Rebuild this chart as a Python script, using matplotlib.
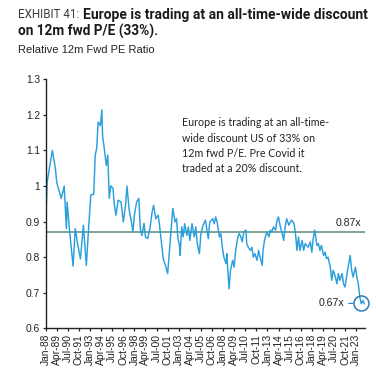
import matplotlib
matplotlib.use("Agg")
import matplotlib.pyplot as plt
import pandas as pd

# ---------------- data ----------------
dates = [
    "1988-01", "1988-03", "1988-06", "1988-10", "1989-02", "1989-04", "1989-08", "1989-10",
    "1990-02", "1990-05", "1990-06", "1990-09", "1991-02", "1991-05", "1991-08", "1991-12",
    "1992-04", "1992-08", "1992-11", "1993-02", "1993-06", "1993-08", "1993-10", "1993-12",
    "1994-03", "1994-05", "1994-06", "1994-08", "1994-11", "1995-01", "1995-03", "1995-05",
    "1995-08", "1995-10", "1995-12", "1996-03", "1996-07", "1996-10", "1997-01", "1997-03",
    "1997-06", "1997-09", "1997-11", "1998-01", "1998-04", "1998-07", "1998-09", "1998-11",
    "1999-02", "1999-04", "1999-07", "1999-10", "2000-01", "2000-03", "2000-06", "2000-09",
    "2000-11", "2001-01", "2001-04", "2001-07", "2001-10", "2002-01", "2002-03", "2002-05",
    "2002-08", "2002-10", "2002-12", "2003-02", "2003-03", "2003-05", "2003-07", "2003-09",
    "2003-12", "2004-02", "2004-04", "2004-07", "2004-10", "2004-12", "2005-02", "2005-05",
    "2005-07", "2005-10", "2006-01", "2006-03", "2006-05", "2006-07", "2006-11", "2007-01",
    "2007-03", "2007-05", "2007-08", "2007-10", "2007-12", "2008-02", "2008-05", "2008-06",
    "2008-08", "2008-09", "2008-11", "2009-02", "2009-04", "2009-06", "2009-09", "2009-11",
    "2010-01", "2010-03", "2010-05", "2010-08", "2010-09", "2010-11", "2011-02", "2011-04",
    "2011-06", "2011-08", "2011-11", "2012-01", "2012-03", "2012-06", "2012-07", "2012-09",
    "2012-12", "2013-03", "2013-05", "2013-07", "2013-09", "2013-12", "2014-02", "2014-04",
    "2014-06", "2014-09", "2014-11", "2015-01", "2015-03", "2015-06", "2015-08", "2015-10",
    "2016-01", "2016-03", "2016-05", "2016-07", "2016-09", "2016-12", "2017-02", "2017-04",
    "2017-08", "2017-11", "2018-01", "2018-03", "2018-05", "2018-08", "2018-10", "2018-12",
    "2019-02", "2019-05", "2019-07", "2019-09", "2019-11", "2020-02", "2020-04", "2020-06",
    "2020-09", "2020-11", "2021-01", "2021-03", "2021-06", "2021-08", "2021-10", "2021-12",
    "2022-03", "2022-05", "2022-07", "2022-09", "2022-12", "2023-02", "2023-04", "2023-06",
    "2023-08", "2023-10", "2023-12",
]
rel_pe = [
    0.895, 1.01, 1.05, 1.10, 1.05, 1.01, 0.98, 0.965,
    1.00, 0.88, 0.955, 0.88, 0.775, 0.88, 0.84, 0.795,
    0.89, 0.777, 0.88, 0.975, 0.977, 1.087, 1.106, 1.18,
    1.17, 1.214, 1.14, 1.11, 1.058, 1.087, 0.965, 1.00,
    0.994, 0.946, 0.918, 0.96, 0.955, 0.899, 0.946, 1.00,
    0.932, 0.899, 0.871, 0.918, 0.955, 0.965, 0.88, 0.861,
    0.895, 0.857, 0.852, 0.88, 0.927, 0.946, 0.908, 0.918,
    0.89, 0.852, 0.796, 0.777, 0.754, 0.833, 0.88, 0.937,
    0.899, 0.908, 0.852, 0.833, 0.805, 0.885, 0.857, 0.894,
    0.861, 0.885, 0.847, 0.894, 0.857, 0.885, 0.838, 0.81,
    0.866, 0.89, 0.904, 0.88, 0.852, 0.899, 0.908, 0.894,
    0.913, 0.899, 0.857, 0.866, 0.828, 0.80, 0.782, 0.81,
    0.744, 0.711, 0.763, 0.791, 0.772, 0.819, 0.857, 0.866,
    0.857, 0.843, 0.871, 0.876, 0.838, 0.828, 0.819, 0.828,
    0.80, 0.81, 0.791, 0.819, 0.80, 0.777, 0.819, 0.847,
    0.871, 0.857, 0.876, 0.871, 0.885, 0.876, 0.904, 0.913,
    0.89, 0.866, 0.847, 0.885, 0.908, 0.89, 0.899, 0.904,
    0.894, 0.866, 0.819, 0.857, 0.819, 0.847, 0.819, 0.838,
    0.828, 0.843, 0.814, 0.852, 0.876, 0.833, 0.838, 0.819,
    0.833, 0.805, 0.814, 0.796, 0.80, 0.772, 0.735, 0.763,
    0.744, 0.725, 0.754, 0.735, 0.754, 0.725, 0.716, 0.744,
    0.782, 0.805, 0.763, 0.744, 0.772, 0.744, 0.725, 0.688,
    0.669, 0.678, 0.669,
]
tick_labels = [
    "Jan-88", "Apr-89", "Jul-90", "Oct-91", "Jan-93", "Apr-94", "Jul-95", "Oct-96",
    "Jan-98", "Apr-99", "Jul-00", "Oct-01", "Jan-03", "Apr-04", "Jul-05", "Oct-06",
    "Jan-08", "Apr-09", "Jul-10", "Oct-11", "Jan-13", "Apr-14", "Jul-15", "Oct-16",
    "Jan-18", "Apr-19", "Jul-20", "Oct-21", "Jan-23",
]
y_ticks = [0.6, 0.7, 0.8, 0.9, 1.0, 1.1, 1.2, 1.3]
y_tick_labels = ["0.6", "0.7", "0.8", "0.9", "1", "1.1", "1.2", "1.3"]
avg_level = 0.87
avg_label = "0.87x"
current_date = "2023-07"
current_level = 0.67
current_label = "0.67x"

title_prefix = "EXHIBIT 41:"
title_line1 = "Europe is trading at an all-time-wide discount"
title_line2 = "on 12m fwd P/E (33%)."
subtitle = "Relative 12m Fwd PE Ratio"
note = ("Europe is trading at an all-time-\n"
        "wide discount US of 33% on\n"
        "12m fwd P/E. Pre Covid it\n"
        "traded at a 20% discount.")

# ---------------- figure ----------------
W, H = 376, 382
fig = plt.figure(figsize=(W / 100, H / 100), dpi=100)
fig.patch.set_facecolor("white")

def fx(px):
    return px / W

def fy(py):
    return 1 - py / H

ax = fig.add_axes([fx(45.7), fy(328.3), fx(365) - fx(45.7), fy(79.3) - fy(328.3)])

x = pd.to_datetime(dates, format="%Y-%m")
ax.plot(x, rel_pe, color="#2a9fdc", lw=1.05, solid_joinstyle="round")
ax.axhline(avg_level, color="#6f9c8e", lw=1.3, zorder=1)

ax.set_ylim(0.6, 1.3)
ax.set_xlim(pd.Timestamp("1988-01-01"), pd.Timestamp("2024-01-01"))
ax.set_yticks(y_ticks)
ax.set_yticklabels(y_tick_labels)
tick_pos = pd.to_datetime(tick_labels, format="%b-%y")
ax.set_xticks(tick_pos)
ax.set_xticklabels(tick_labels, rotation=90)

for lab in ax.get_xticklabels() + ax.get_yticklabels():
    lab.set_fontfamily("Liberation Sans")
    lab.set_fontsize(7.4)
    lab.set_color("#222222")

ax.tick_params(axis="both", direction="out", length=2.5, width=0.9, color="#222222", pad=1.5)
for side in ("top", "right"):
    ax.spines[side].set_visible(False)
for side in ("left", "bottom"):
    ax.spines[side].set_color("#222222")
    ax.spines[side].set_linewidth(1.0)

# average label
ax.annotate(avg_label, xy=(1.0, avg_level), xycoords=("axes fraction", "data"),
            xytext=(-3, 7), textcoords="offset points", ha="right", va="center",
            fontsize=7.6, family="Liberation Sans", color="#222222")

# current level annotation with circle
cx = pd.Timestamp(current_date)
ax.plot([cx], [current_level], marker="o", ms=10.8, mfc="none", mec="#2b7bb5", mew=1.1,
        clip_on=False)
ax.annotate(current_label, xy=(cx, current_level), xytext=(-11.5, 0),
            textcoords="offset points", ha="right", va="center",
            fontsize=7.6, family="Liberation Sans", color="#222222",
            arrowprops=dict(arrowstyle="-", color="#2b7bb5", lw=0.8,
                            shrinkA=1, shrinkB=5.4))

renderer = fig.canvas.get_renderer()

def fit_text(t, target_w, size0):
    t.set_fontsize(size0)
    w = t.get_window_extent(renderer).width
    t.set_fontsize(size0 * target_w / w)
    return t

# note text
nt = fig.text(fx(181.7), fy(117.5), note, ha="left", va="top", fontsize=7.7,
              family="Lato", color="#222222", linespacing=1.48)
fit_text(nt, 146, 7.7)

# titles
t0 = fig.text(fx(18.5), fy(18.5), title_prefix, ha="left", va="baseline",
              family="Roboto", color="#3c3c3c")
fit_text(t0, 61, 8.6)
t1 = fig.text(fx(83.3), fy(18.5), title_line1, ha="left", va="baseline",
              family="Roboto", weight="bold", color="#1a1a1a")
fit_text(t1, 283, 9.0)
t2 = fig.text(fx(18.5), fy(36), title_line2, ha="left", va="baseline",
              family="Roboto", weight="bold", color="#1a1a1a")
fit_text(t2, 140, 9.0)
st = fig.text(fx(18.5), fy(53.3), subtitle, ha="left", va="baseline", fontsize=8.0,
              family="Liberation Sans", color="#222222")

fig.savefig("out.png", dpi=100, facecolor="white")
